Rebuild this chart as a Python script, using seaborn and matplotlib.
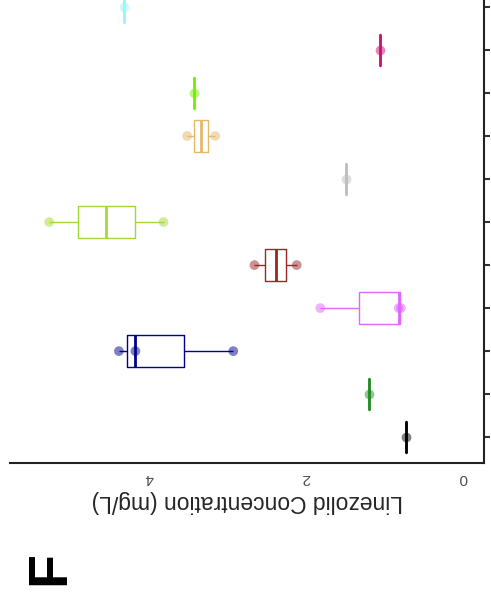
"""Linezolid concentration box plot (panel F), drawn upside down like the reference."""

import numpy as np
import pandas as pd
import matplotlib
matplotlib.use("Agg")
import matplotlib.pyplot as plt
import seaborn as sns

# --- data (one entry per group, top to bottom as seen in the picture) ---
groups = ["g01", "g02", "g03", "g04", "g05", "g06",
          "g07", "g08", "g09", "g10", "g11"]
values = [
    [4.33],
    [1.06],
    [3.43],
    [3.52, 3.16],
    [1.49],
    [5.28, 3.82],
    [2.66, 2.12],
    [1.82, 0.82, 0.79],
    [4.39, 4.18, 2.93],
    [1.20],
    [0.72],
]
colors = ["#98F5FF", "#CD1076", "#76EE00", "#E6B86A", "#BEBEBE", "#A2D93A",
          "#9B2525", "#E066FF", "#00008B", "#228B22", "#000000"]
x_ticks = [0, 2, 4]

df = pd.DataFrame(
    [(g, v) for g, vals in zip(groups, values) for v in vals],
    columns=["group", "conc"],
)
palette = dict(zip(groups, colors))

sns.set_style("white")
plt.rcParams["font.family"] = ["Liberation Sans", "DejaVu Sans"]

fig = plt.figure(figsize=(4.91, 6), dpi=100)
ax = fig.add_axes([10 / 491, 137 / 600, 474 / 491, 463 / 600])

sns.boxplot(
    data=df, x="conc", y="group", hue="group", order=groups, hue_order=groups,
    palette=palette, fill=False, width=0.75, whis=np.inf, showcaps=False,
    showfliers=False, linewidth=1, legend=False, ax=ax,
    medianprops={"linewidth": 2},
)
sns.stripplot(
    data=df, x="conc", y="group", hue="group", order=groups, hue_order=groups,
    palette=palette, jitter=False, size=7, alpha=0.5, linewidth=0,
    legend=False, ax=ax,
)

# whole picture is rotated by 180 degrees
ax.set_xlim(5.78, -0.27)
ax.set_ylim(10.6, -0.16)

ax.yaxis.tick_right()
ax.set_yticks(range(len(groups)))
ax.set_yticklabels([])
ax.set_ylabel("")
ax.set_xticks(x_ticks)
ax.set_xticklabels([str(t) for t in x_ticks])
ax.tick_params(axis="x", labelrotation=180, labelsize=11, labelcolor="#4D4D4D",
               length=4, width=1.5, color="#333333", pad=2)
ax.tick_params(axis="y", length=4, width=1.5, color="#333333", right=True, left=False)

ax.set_xlabel("Linezolid Concentration (mg/L)", fontsize=16.5, rotation=180, labelpad=3)

for side in ["left", "top"]:
    ax.spines[side].set_visible(False)
for side in ["right", "bottom"]:
    ax.spines[side].set_linewidth(1.5)
    ax.spines[side].set_color("#222222")

fig.text(50 / 491, 1 - 568 / 600, "F", fontsize=40, fontweight="bold",
         color="black", rotation=90, ha="center", va="center")

fig.savefig("out.png", dpi=100)
